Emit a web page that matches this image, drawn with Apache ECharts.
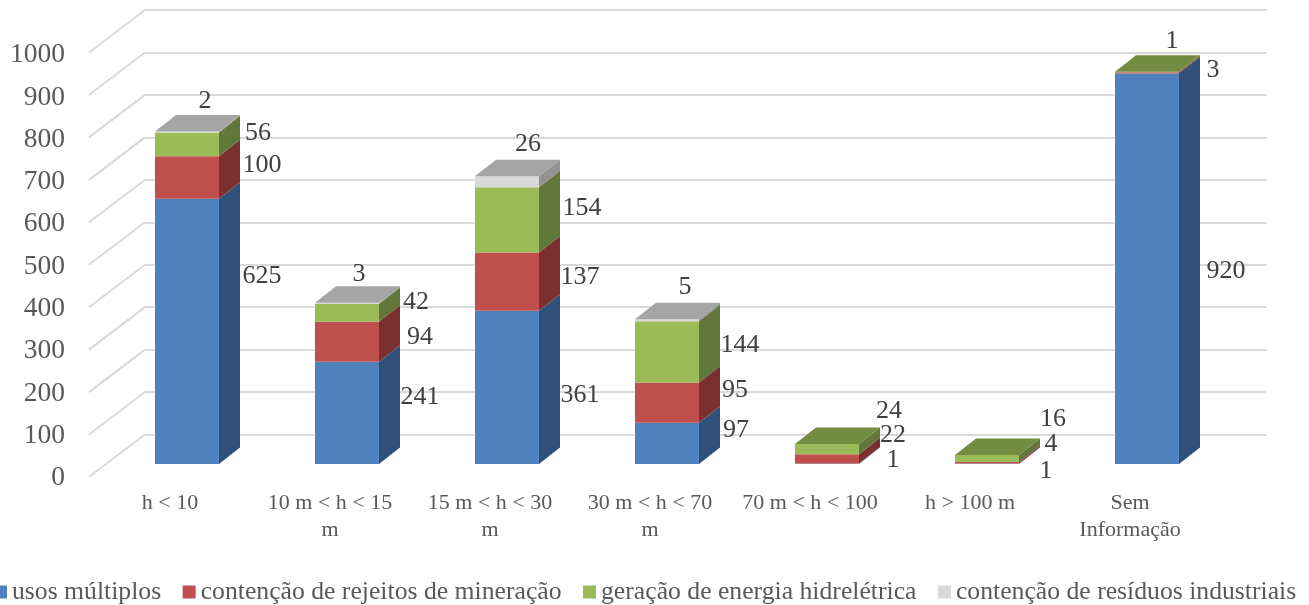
<!DOCTYPE html>
<html>
<head>
<meta charset="utf-8">
<title>Barragens por altura</title>
<script src="https://cdn.jsdelivr.net/npm/echarts@6/dist/echarts.min.js"></script>
<style>
  html, body { margin: 0; padding: 0; background: #fff; overflow: hidden; }
  #chart { width: 1309px; height: 605px; }
</style>
</head>
<body>
<div id="chart"></div>
<script>
const categories = ['h < 10', '10 m < h < 15\nm', '15 m < h < 30\nm', '30 m < h < 70\nm', '70 m < h < 100', 'h > 100 m', 'Sem\nInformação'];
const usosMultiplos = [625, 241, 361, 97, 1, 1, 920];
const rejeitos = [100, 94, 137, 95, 22, 4, 3];
const hidreletrica = [56, 42, 154, 144, 24, 16, 1];
const industriais = [2, 3, 26, 5, 0, 0, 0];
const seriesNames = ['usos múltiplos', 'contenção de rejeitos de mineração', 'geração de energia hidrelétrica', 'contenção de resíduos industriais'];
const yTicks = [0, 100, 200, 300, 400, 500, 600, 700, 800, 900, 1000];

// cores de cada serie: frente, lado, topo
const frontColors = ['#4f81bd', '#c0504d', '#9bbb59', '#d9d9d9'];
const sideColors = ['#2f5078', '#7b302e', '#62773a', '#939393'];
const topColors = ['#3f6a9e', '#a04340', '#728c41', '#a5a5a5'];

// ajuste manual dos rotulos, como no grafico original (dx, dy por serie e categoria)
const labelNudge = [
  [[2, -48], [0, -9], [0, 15], [-4, -6], [-7, 3], [-14, 14], [6, 9]],
  [[2, -5], [0, 2], [0, 2], [-5, -5], [-7, -17], [-9, -12], [-7, 4]],
  [[-2, -4], [-4, -4], [2, -5], [0, 0], [-11, -31], [-7, -32], [-48, -24]],
  [[-55, -24], [-61, -22], [-52, -31], [-55, -26], [0, 0], [0, 0], [0, 0]]
];

const stacks = [usosMultiplos, rejeitos, hidreletrica, industriais];
const FONT = '"Liberation Serif", "Times New Roman", serif';
const BAR_W = 64, DEPTH_X = 21, DEPTH_Y = 16.5;

function barItem(seriesIdx) {
  return function (params, api) {
    const cat = api.value(0), base = api.value(1), val = api.value(2);
    if (!val) return null;
    const p0 = api.coord([cat, base]);
    const p1 = api.coord([cat, base + val]);
    const l = p0[0] - BAR_W / 2, r = p0[0] + BAR_W / 2;
    const children = [
      { type: 'polygon', shape: { points: [[l, p0[1]], [r, p0[1]], [r, p1[1]], [l, p1[1]]] }, style: { fill: frontColors[seriesIdx] } },
      { type: 'polygon', shape: { points: [[r, p0[1]], [r + DEPTH_X, p0[1] - DEPTH_Y], [r + DEPTH_X, p1[1] - DEPTH_Y], [r, p1[1]]] }, style: { fill: sideColors[seriesIdx] } }
    ];
    const isTop = stacks.slice(seriesIdx + 1).every(function (s) { return !s[cat]; });
    if (isTop) {
      children.push({ type: 'polygon', shape: { points: [[l, p1[1]], [r, p1[1]], [r + DEPTH_X, p1[1] - DEPTH_Y], [l + DEPTH_X, p1[1] - DEPTH_Y]] }, style: { fill: topColors[seriesIdx] } });
    }
    const nudge = labelNudge[seriesIdx][cat];
    children.push({
      type: 'text',
      z2: 100,
      x: p0[0] + 73 + nudge[0],
      y: (p0[1] + p1[1]) / 2 - 7 + nudge[1],
      style: { text: String(val), fontSize: 26, fontFamily: FONT, fill: '#404040', align: 'center', verticalAlign: 'middle' }
    });
    return { type: 'group', children: children };
  };
}

function stackData(idx) {
  return stacks[idx].map(function (v, cat) {
    let base = 0;
    for (let i = 0; i < idx; i++) base += stacks[i][cat];
    return [cat, base, v];
  });
}

const barSeries = seriesNames.map(function (name, idx) {
  return {
    name: name,
    type: 'custom',
    xAxisIndex: 1,
    yAxisIndex: 1,
    clip: false,
    silent: true,
    itemStyle: { color: frontColors[idx] },
    encode: { x: 0, y: [1, 2] },
    renderItem: barItem(idx),
    data: stackData(idx)
  };
});

// linhas diagonais do piso/parede
const wallSeries = {
  type: 'custom',
  xAxisIndex: 2,
  yAxisIndex: 2,
  clip: false,
  silent: true,
  encode: { y: 1 },
  renderItem: function (params, api) {
    const y = api.coord([0, api.value(1)])[1];
    const x = params.coordSys.x;
    return {
      type: 'line',
      shape: { x1: x, y1: y, x2: x - 56, y2: y + 42.5 },
      style: { stroke: '#d9d9d9', lineWidth: 2 }
    };
  },
  data: yTicks.map(function (t) { return [0, t]; })
};

const chart = echarts.init(document.getElementById('chart'));
chart.setOption({
  animation: false,
  backgroundColor: '#fff',
  legend: {
    data: seriesNames,
    left: -11,
    top: 574,
    icon: 'rect',
    itemWidth: 13,
    itemHeight: 13,
    itemGap: 21.5,
    textStyle: { fontSize: 25.7, fontFamily: FONT, color: '#595959' }
  },
  grid: [
    { left: 90, top: 55, width: 1120, height: 423 },
    { left: 107, top: 39.5, width: 1120, height: 424.5 },
    { left: 145, top: 10, width: 1122, height: 424.5 }
  ],
  xAxis: [
    {
      gridIndex: 0,
      type: 'category',
      data: categories,
      axisLine: { show: false },
      axisTick: { show: false },
      axisLabel: { interval: 0, fontSize: 22, lineHeight: 27, margin: 11.5, fontFamily: FONT, color: '#595959' }
    },
    { gridIndex: 1, type: 'category', data: categories, show: false },
    { gridIndex: 2, type: 'category', data: categories, show: false }
  ],
  yAxis: [
    {
      gridIndex: 0,
      type: 'value',
      min: 0,
      max: 1000,
      interval: 100,
      splitLine: { show: false },
      axisLabel: { fontSize: 27.5, margin: 25, fontFamily: FONT, color: '#595959', formatter: function (v) { return String(v); } }
    },
    { gridIndex: 1, type: 'value', min: 0, max: 1000, interval: 100, show: false },
    {
      gridIndex: 2,
      type: 'value',
      min: 0,
      max: 1000,
      interval: 100,
      axisLabel: { show: false },
      splitLine: { lineStyle: { color: '#d9d9d9', width: 2 } }
    }
  ],
  series: [wallSeries].concat(barSeries)
});
</script>
</body>
</html>
